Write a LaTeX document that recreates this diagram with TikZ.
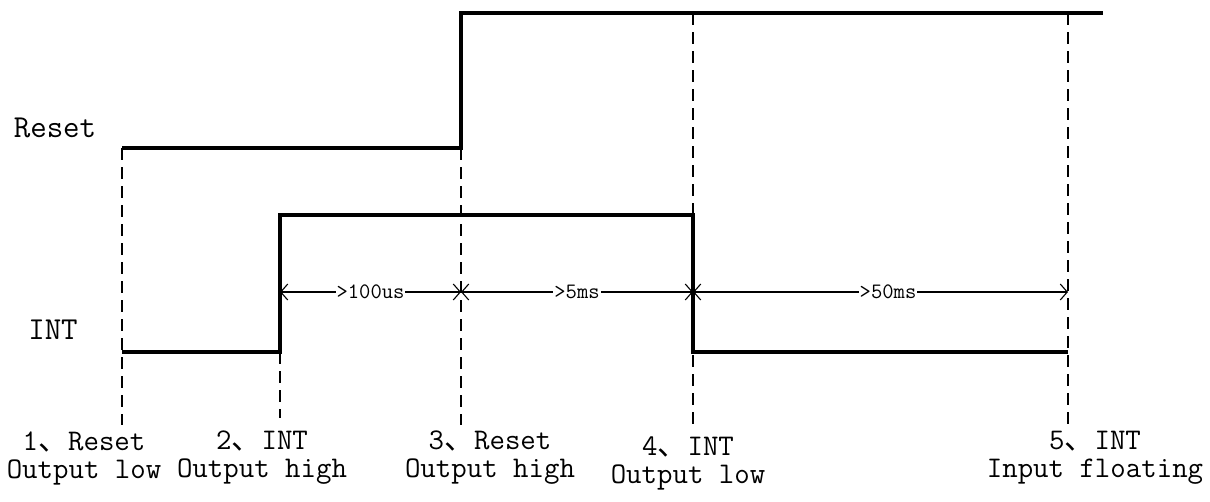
\documentclass[tikz,border=0pt]{standalone}
\usepackage{fontspec}
\newfontfamily\cjk{Noto Sans CJK SC}
\usetikzlibrary{arrows.meta}
\newcommand{\dun}{{\cjk 、}}
\begin{document}
\begin{tikzpicture}[x=1pt,y=-1pt,
  sig/.style={line width=4pt, line join=miter},
  guide/.style={line width=1.4pt, dash pattern=on 12pt off 7pt},
  dim/.style={line width=1.1pt},
  barbs/.style={{Straight Barb[length=7pt,width=16pt,line width=1.1pt]}-{Straight Barb[length=7pt,width=16pt,line width=1.1pt]}},
  dimtxt/.style={fill=white, inner sep=1pt, font=\fontsize{22}{26}\selectfont\ttfamily},
  signame/.style={font=\fontsize{32}{36}\selectfont\ttfamily, inner sep=0pt},
  lbl/.style={font=\fontsize{30}{28}\selectfont\ttfamily, align=center, inner sep=0pt}]
\useasboundingbox (0,0) rectangle (1210,501);
% coordinates
\coordinate (r0) at (122,148);
\coordinate (r1) at (461,148);
\coordinate (r2) at (461,13);
\coordinate (r3) at (1103,13);
\coordinate (i0) at (122,352);
\coordinate (i1) at (280,352);
\coordinate (i2) at (280,215);
\coordinate (i3) at (693,215);
\coordinate (i4) at (693,352);
\coordinate (i5) at (1068,352);
\coordinate (t5) at (1068,13);
\coordinate (t4) at (693,13);
\coordinate (b1) at (122,425);
\coordinate (b2) at (280,418);
\coordinate (b3) at (461,425);
\coordinate (b4) at (693,428);
\coordinate (b5) at (1068,425);
\coordinate (d2) at (280,292);
\coordinate (d3) at (461,292);
\coordinate (d4) at (693,292);
\coordinate (d5) at (1068,292);
% guides
\draw[guide] (r0) -- (b1);
\draw[guide] (i1) -- (b2);
\draw[guide] (r1) -- (b3);
\draw[guide] (t4) -- (b4);
\draw[guide] (t5) -- (b5);
% signals
\draw[sig] (r0) -- (r1) -- (r2) -- (r3);
\draw[sig] (i0) -- (i1) -- (i2) -- (i3) -- (i4) -- (i5);
% dimensions
\draw[dim, barbs] (d2) -- node[dimtxt]{>100us} (d3);
\draw[dim, barbs] (d3) -- node[dimtxt]{>5ms} (d4);
\draw[dim, barbs] (d4) -- node[dimtxt, pos=0.52]{>50ms} (d5);
% names
\node[signame] (nreset) at (55,128) {Reset};
\node[signame] (nint) at (53,330) {INT};
% labels
\node[lbl] (l1) at (84,458) {1\dun Reset\\Output low};
\node[lbl] (l2) at (262,458) {2\dun INT\\Output high};
\node[lbl] (l3) at (490,458) {3\dun Reset\\Output high};
\node[lbl] (l4) at (688,463) {4\dun INT\\Output low};
\node[lbl] (l5) at (1095,458) {5\dun INT\\Input floating};
\end{tikzpicture}
\end{document}
